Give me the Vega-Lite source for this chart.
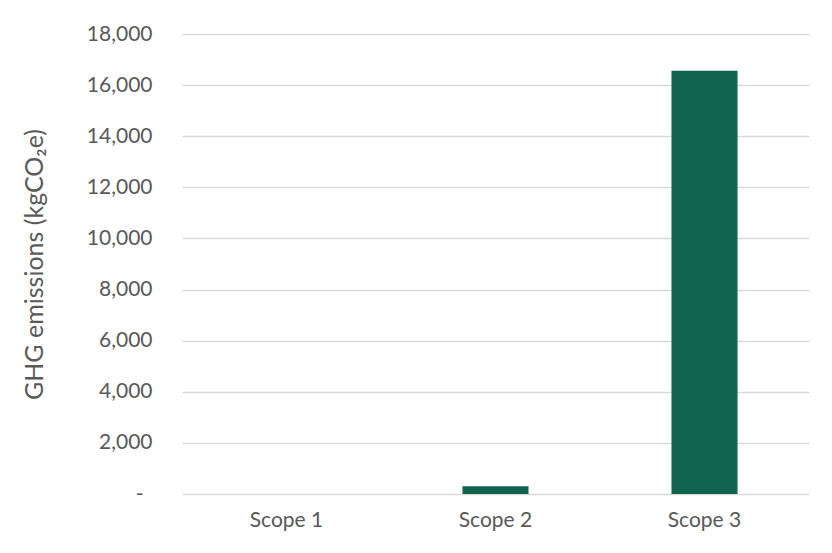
{
  "$schema": "https://vega.github.io/schema/vega-lite/v6.json",
  "width": 627,
  "height": 460,
  "autosize": {"type": "none"},
  "padding": {"left": 182, "top": 34, "right": 23, "bottom": 59},
  "background": "white",
  "data": {"values": [
    {"scope": "Scope 1", "emissions": 0},
    {"scope": "Scope 2", "emissions": 305},
    {"scope": "Scope 3", "emissions": 16560}
  ]},
  "mark": {"type": "bar", "color": "#11654E"},
  "encoding": {
    "x": {
      "field": "scope", "type": "nominal", "title": null,
      "scale": {"paddingInner": 0.684, "paddingOuter": 0.342},
      "axis": {"labelAngle": 0, "labelPadding": 15, "ticks": false, "domain": false, "grid": false}
    },
    "y": {
      "field": "emissions", "type": "quantitative",
      "title": "GHG emissions (kgCO₂e)",
      "scale": {"domain": [0, 18000], "nice": false},
      "axis": {
        "values": [0, 2000, 4000, 6000, 8000, 10000, 12000, 14000, 16000, 18000],
        "labelExpr": "datum.value == 0 ? '-' : format(datum.value, ',')",
        "ticks": false, "domain": false,
        "labelPadding": {"condition": {"test": "datum.value == 0", "value": 39}, "value": 30},
        "titlePadding": 39
      }
    }
  },
  "config": {
    "font": "Lato",
    "view": {"stroke": null},
    "axis": {
      "labelFont": "Lato", "labelFontSize": 21, "labelColor": "#595959",
      "titleFont": "Lato", "titleFontSize": 25, "titleColor": "#595959", "titleFontWeight": "normal",
      "gridColor": "#d9d9d9", "gridWidth": 1.3
    }
  }
}
